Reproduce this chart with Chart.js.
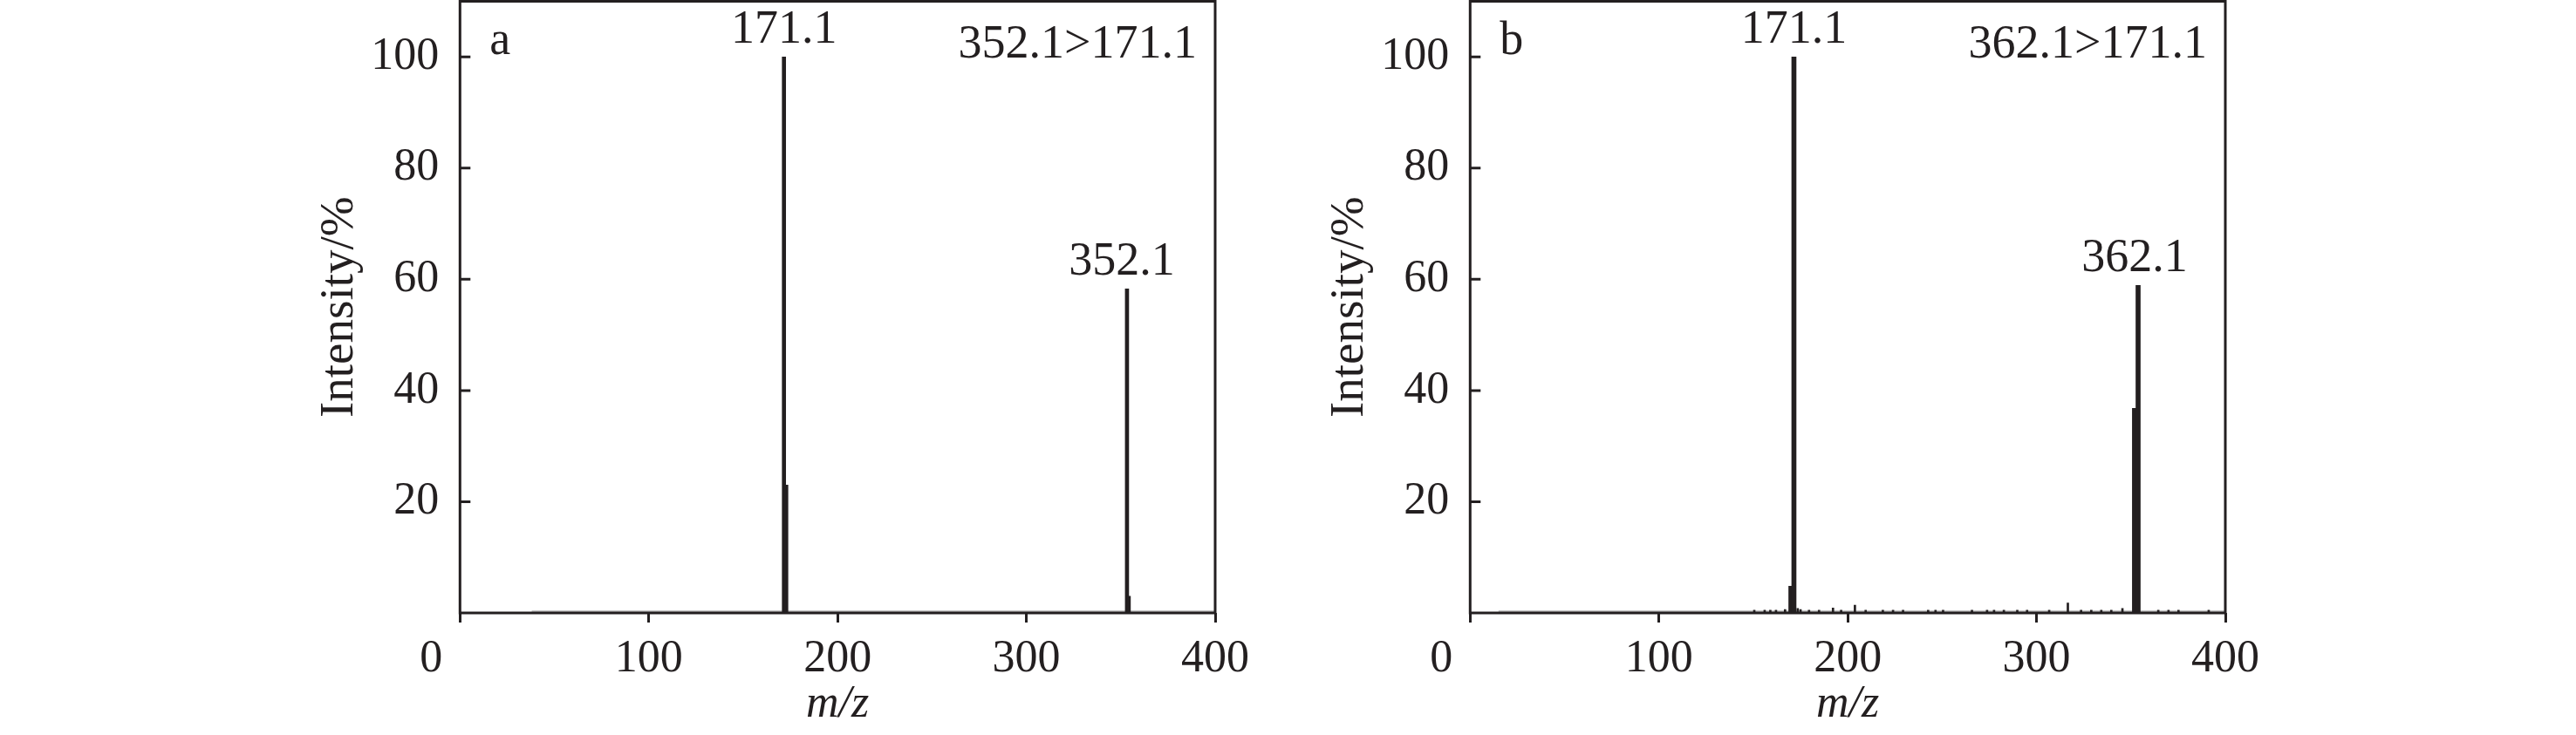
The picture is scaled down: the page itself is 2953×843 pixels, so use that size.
<!DOCTYPE html>
<html>
<head>
<meta charset="utf-8">
<script src="https://cdn.jsdelivr.net/npm/chart.js@4.4.1/dist/chart.umd.min.js"></script>
<style>
  body { margin:0; background:#fff; width:2953px; height:843px; overflow:hidden; position:relative; }
  .panel { position:absolute; top:0; width:1450px; height:843px; }
</style>
</head>
<body>
<div class="panel" style="left:0px"><canvas id="chartA" width="1450" height="843"></canvas></div>
<div class="panel" style="left:1158px"><canvas id="chartB" width="1450" height="843"></canvas></div>
<script>
// ticks
var xTicks = [0, 100, 200, 300, 400];
var yTicks = [20, 40, 60, 80, 100];

// panel a : 352.1>171.1
var peaksAx = [171.6, 172.8, 353.3, 354.2];
var peaksAy = [100, 23, 58.3, 3];
var baseAx  = [38, 400];
var baseAy  = [0.3, 0.3];
var labelsA = ['171.1', '352.1'];
var labelsAx = [171.6, 350.6];
var labelsAy = [100, 58.3];

// panel b : 362.1>171.1
var peaksBx = [169.9, 171.5, 351.9, 353.8];
var peaksBy = [4.8, 100, 36.8, 58.9];
var noiseBx = [150.5, 156, 159, 162, 166.8, 173.5, 175, 179.5, 184.8, 192.2, 196.5, 203.8, 209.5, 218.6, 224, 229.3, 242.6, 246.5, 250.5, 265.8, 273.8, 277.5, 282.7, 289.8, 295, 306.7, 316.6, 323.6, 329, 334.3, 339.6, 345.5, 364.5, 369.9, 375.2, 391.2];
var noiseBy = [0.5, 0.5, 0.5, 0.5, 0.6, 0.8, 0.6, 0.5, 0.5, 0.9, 0.5, 1.4, 0.5, 0.5, 0.5, 0.5, 0.5, 0.5, 0.5, 0.5, 0.5, 0.5, 0.5, 0.5, 0.5, 0.5, 1.8, 0.5, 0.5, 0.5, 0.5, 0.8, 0.5, 0.5, 0.5, 0.5];
var baseBx  = [15, 400];
var baseBy  = [0.3, 0.3];
var labelsB = ['171.1', '362.1'];
var labelsBx = [171.5, 352.0];
var labelsBy = [100, 58.9];

var ink = '#231f20';
var serif = '"Liberation Serif", "Times New Roman", serif';

function pts(xs, ys) {
  return xs.map(function(v, i){ return { x:v, y:ys[i] }; });
}

function noPad(s) {
  s.paddingTop = 0; s.paddingBottom = 0; s.paddingLeft = 0; s.paddingRight = 0;
}

//Frame, inward ticks and texts
function panelPlugin(letter, transition, lt, lx, ly) {
  return {
    id: 'panel' + letter,
    afterDatasetsDraw: function(chart) {
      var c = chart.ctx, a = chart.chartArea, sx = chart.scales.x, sy = chart.scales.y;
      c.save();
      c.strokeStyle = ink;
      c.lineWidth = 3;
      c.strokeRect(a.left, a.top, a.right - a.left, a.bottom - a.top);
      c.beginPath();
      sy.ticks.forEach(function(t){
        var py = sy.getPixelForValue(t.value);
        c.moveTo(a.left, py); c.lineTo(a.left + 12, py);
      });
      c.stroke();

      c.fillStyle = ink;
      c.textBaseline = 'alphabetic';
      c.font = '52px ' + serif;
      c.textAlign = 'center';
      sx.ticks.forEach(function(t){
        var px = sx.getPixelForValue(t.value);
        if (t.value === 0) px -= 33;
        c.fillText(String(t.value), px, a.bottom + 67);
      });

      c.font = '54px ' + serif;
      for (var i=0;i<lt.length;i++){
        c.fillText(lt[i], sx.getPixelForValue(lx[i]), sy.getPixelForValue(ly[i]) - 16);
      }
      c.textAlign = 'left';
      c.fillText(letter, a.left + 34, a.top + 60);
      c.textAlign = 'right';
      c.fillText(transition, a.right - 21, a.top + 64);
      c.restore();
    }
  };
}

function makeChart(id, datasets, plugin) {
  return new Chart(document.getElementById(id), {
    type: 'bar',
    data: { datasets: datasets },
    options: {
      responsive: false,
      animation: false,
      devicePixelRatio: 1,
      layout: { padding: { top:1.5, right:57, bottom:0, left:0 } },
      plugins: { legend:{ display:false }, tooltip:{ enabled:false } },
      scales: {
        x: {
          type: 'linear', min: 0, max: 400, bounds: 'data', offset: false,
          afterBuildTicks: function(s){ s.ticks = xTicks.map(function(v){ return { value:v }; }); },
          afterFit: function(s){ s.height = 140; noPad(s); },
          border: { display:false },
          grid: { display:true, offset:false, drawOnChartArea:false, drawTicks:true, tickLength:11, color:ink, lineWidth:3 },
          ticks: { display:false },
          title: { display:true, text:'m/z', color:ink, padding:{ top:0, bottom:3 },
                   font:{ family:serif, size:52, style:'italic' } }
        },
        y: {
          type: 'linear', min: 0, max: 110, bounds: 'data',
          afterBuildTicks: function(s){ s.ticks = yTicks.map(function(v){ return { value:v }; }); },
          afterFit: function(s){ s.width = 527.3; noPad(s); },
          border: { display:false },
          grid: { display:false, drawTicks:false },
          ticks: { color:ink, padding:24, font:{ family:serif, size:52 } },
          title: { display:true, text:'Intensity/%', color:ink, padding:{ top:357, bottom:0 },
                   font:{ family:serif, size:55 } }
        }
      }
    },
    plugins: [plugin]
  });
}

makeChart('chartA', [
  { type:'bar', data:pts(peaksAx, peaksAy), backgroundColor:ink, barThickness:4, grouped:false, order:1 },
  { type:'line', data:pts(baseAx, baseAy), borderColor:'#c4c4c4', borderWidth:2, pointRadius:0, order:3 }
], panelPlugin('a', '352.1>171.1', labelsA, labelsAx, labelsAy));

makeChart('chartB', [
  { type:'bar', data:pts(peaksBx, peaksBy), backgroundColor:ink, barThickness:5, grouped:false, order:1 },
  { type:'bar', data:pts(noiseBx, noiseBy), backgroundColor:ink, barThickness:2, grouped:false, order:2 },
  { type:'line', data:pts(baseBx, baseBy), borderColor:'#c4c4c4', borderWidth:2, pointRadius:0, order:3 }
], panelPlugin('b', '362.1>171.1', labelsB, labelsBx, labelsBy));
</script>
</body>
</html>
